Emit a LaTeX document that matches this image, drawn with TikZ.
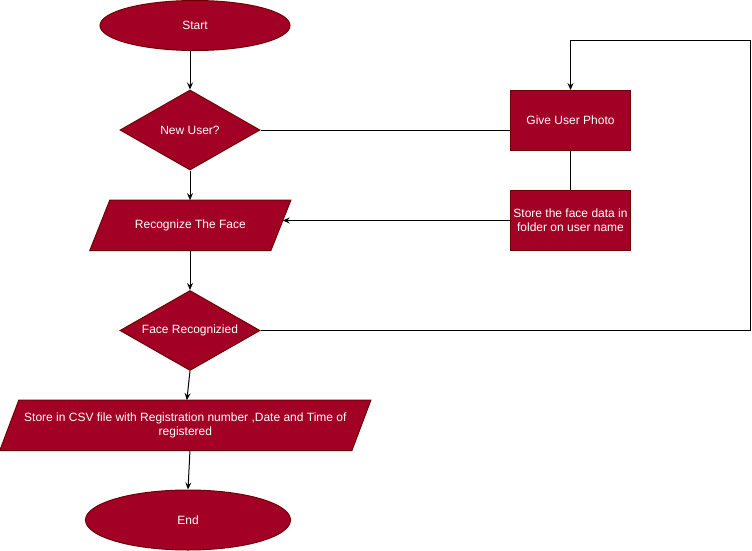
\documentclass[tikz,border=0pt]{standalone}
\usepackage{fontspec}
\setmainfont{Liberation Sans}
\usetikzlibrary{shapes.geometric,arrows.meta,calc,backgrounds}
\definecolor{crimsonfill}{HTML}{A20025}
\definecolor{crimsonline}{HTML}{6F0000}
\tikzset{
  txt/.style={text=white, font=\fontsize{12}{14.4}\selectfont, inner sep=0pt, align=center},
  base/.style={txt, fill=crimsonfill, draw=crimsonline, line width=1pt},
  shapeline/.style={fill=crimsonfill, draw=crimsonline, line width=1pt},
  term/.style={base, ellipse},
  decision/.style={base, diamond, aspect=1.75, minimum width=140pt, minimum height=80pt},
  process/.style={base, rectangle, minimum width=120pt, minimum height=60pt},
  iobody/.style={txt, rectangle, minimum height=50pt},
  conn/.style={line width=1pt, black},
  arr/.style={conn, -{Stealth[length=7pt,width=6pt,inset=2.5pt]}},
}
\begin{document}
\begin{tikzpicture}[x=1pt,y=-1pt]
\useasboundingbox (0,0) rectangle (752,551);
\node[term, minimum width=190pt, minimum height=50pt] (start) at (195,25.5) {Start};
\node[decision] (nu) at (190,130) {New User?};
\node[process] (give) at (570.5,120.5) {Give User Photo};
\node[process] (store) at (570.5,220.5) {Store the face data in\\folder on user name};
\node[iobody, minimum width=180.7pt] (rec) at (190.35,225.3) {Recognize The Face};
\node[decision] (fr) at (190,330.5) {Face Recognizied};
\node[iobody, minimum width=351.7pt] (csv) at (185.35,425.3) {Store in CSV file with Registration number ,Date and Time of\\registered};
\node[term, minimum width=205pt, minimum height=60pt] (end) at (188,520) {End};
\coordinate (loopcorner) at (750.5,40.5);

\begin{scope}[on background layer]
  \draw[shapeline] ([xshift=-10pt]rec.south west) -- ([xshift=10pt]rec.north west)
    -- ([xshift=10pt]rec.north east) -- ([xshift=-10pt]rec.south east) -- cycle;
  \draw[shapeline] ([xshift=-9.5pt]csv.south west) -- ([xshift=9.5pt]csv.north west)
    -- ([xshift=9.5pt]csv.north east) -- ([xshift=-9.5pt]csv.south east) -- cycle;
\end{scope}

\draw[arr] (nu.north |- start.south) -- (nu.north);
\draw[conn] (nu.east) -- (nu.east -| give.west);
\draw[conn] (give.south) -- (store.north);
\draw[arr] (store.west) -- ([xshift=1.9pt]store.west -| rec.east);
\draw[arr] (nu.south) -- (rec.north -| nu.south);
\draw[arr] (rec.south -| fr.north) -- (fr.north);
\draw[arr] (fr.east) -| (loopcorner) -| (give.north);
\draw[arr] (fr.south) -- ([xshift=1.5pt]csv.north);
\draw[arr] ([xshift=4.6pt]csv.south) -- (end.north);
\end{tikzpicture}
\end{document}
